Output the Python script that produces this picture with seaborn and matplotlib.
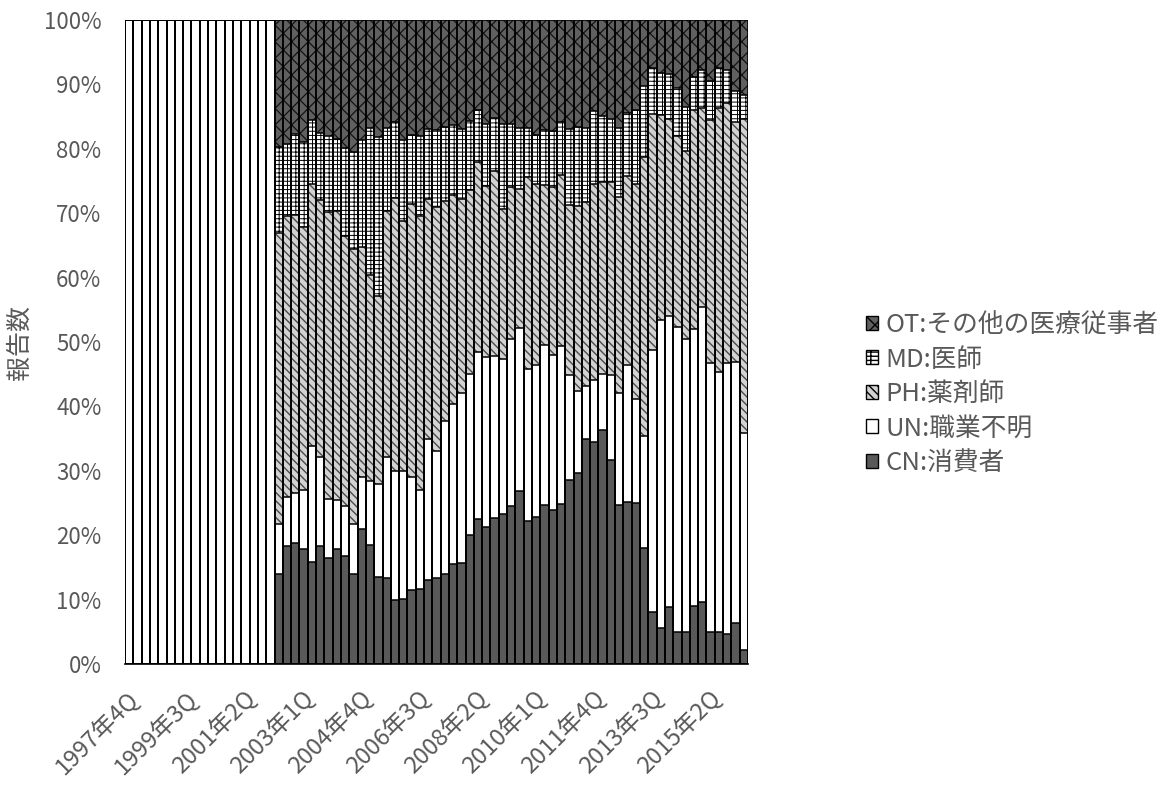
import matplotlib
matplotlib.use("Agg")
import matplotlib.pyplot as plt
from matplotlib.patches import Patch
from matplotlib.ticker import FuncFormatter
from matplotlib.transforms import ScaledTranslation
import seaborn as sns

# Quarterly categories, 1997Q4 .. 2016Q2
quarters = []
_y, _q = 1997, 4
for _ in range(75):
    quarters.append(f"{_y}年{_q}Q")
    _q += 1
    if _q > 4:
        _q, _y = 1, _y + 1

tick_labels = ["1997年4Q", "1999年3Q", "2001年2Q", "2003年1Q", "2004年4Q", "2006年3Q",
               "2008年2Q", "2010年1Q", "2011年4Q", "2013年3Q", "2015年2Q"]

# Share of reports by reporter type (%), per quarter
cn = [0, 0, 0, 0, 0, 0, 0, 0, 0, 0, 0, 0, 0, 0, 0, 0, 0, 0,
      14.0, 18.3, 18.8, 17.9, 15.9, 18.4, 16.4, 17.8, 16.8, 14.0,
      20.9, 18.5, 13.5, 13.3, 9.9, 10.1, 11.5, 11.6, 13.1, 13.4,
      14.0, 15.6, 15.7, 20.0, 22.5, 21.3, 22.6, 23.3, 24.6, 26.9,
      22.2, 22.8, 24.7, 23.9, 24.9, 28.5, 29.6, 34.9, 34.5, 36.3,
      31.7, 24.7, 25.1, 25.0, 18.0, 8.0, 5.6, 8.9, 4.9, 5.0,
      9.0, 9.7, 4.9, 4.9, 4.7, 6.3, 2.1]
un = [100, 100, 100, 100, 100, 100, 100, 100, 100, 100, 100, 100, 100, 100, 100, 100, 100, 100,
      7.8, 7.7, 7.7, 9.1, 18.0, 13.8, 9.2, 7.7, 7.8, 7.8,
      8.2, 9.9, 14.4, 18.8, 20.1, 19.9, 17.6, 15.4, 21.9, 19.6,
      23.7, 24.7, 26.4, 25.1, 25.9, 26.3, 25.3, 24.0, 25.8, 25.3,
      23.6, 23.6, 24.8, 24.1, 24.5, 16.3, 12.8, 8.3, 9.6, 8.8,
      13.1, 17.4, 21.4, 16.2, 17.4, 40.8, 47.8, 45.1, 47.5, 45.4,
      43.0, 45.7, 41.8, 40.5, 42.0, 40.6, 33.8]
ph = [0, 0, 0, 0, 0, 0, 0, 0, 0, 0, 0, 0, 0, 0, 0, 0, 0, 0,
      45.1, 43.6, 43.2, 40.8, 40.6, 39.8, 44.6, 44.9, 41.9, 42.7,
      35.7, 32.0, 29.2, 38.3, 42.4, 38.8, 42.3, 42.6, 37.2, 38.0,
      34.2, 32.5, 30.1, 28.5, 29.6, 26.6, 28.7, 23.3, 23.6, 21.5,
      29.8, 28.1, 24.9, 26.1, 26.5, 26.5, 28.7, 28.6, 30.5, 29.8,
      30.1, 30.4, 29.2, 33.4, 43.4, 36.6, 31.8, 30.7, 29.6, 29.2,
      34.1, 30.9, 37.7, 41.0, 40.4, 37.3, 48.8]
md = [0, 0, 0, 0, 0, 0, 0, 0, 0, 0, 0, 0, 0, 0, 0, 0, 0, 0,
      13.4, 11.1, 12.6, 13.3, 10.0, 10.5, 11.8, 11.1, 13.6, 15.0,
      16.6, 22.9, 24.7, 12.8, 11.7, 12.6, 10.7, 12.4, 10.9, 11.9,
      11.5, 10.9, 10.8, 10.7, 8.0, 9.7, 8.2, 13.3, 9.9, 9.6,
      7.7, 7.6, 8.5, 8.7, 8.3, 11.7, 12.3, 11.5, 11.2, 10.2,
      9.8, 10.8, 9.9, 11.4, 11.0, 7.1, 6.6, 6.9, 7.5, 6.9,
      5.0, 5.9, 6.1, 6.1, 5.1, 4.7, 3.7]
ot = [0, 0, 0, 0, 0, 0, 0, 0, 0, 0, 0, 0, 0, 0, 0, 0, 0, 0,
      19.7, 19.3, 17.7, 18.9, 15.5, 17.5, 18.0, 18.5, 19.9, 20.5,
      18.6, 16.7, 18.2, 16.8, 15.9, 18.6, 17.9, 18.0, 16.9, 17.1,
      16.6, 16.3, 17.0, 15.7, 14.0, 16.1, 15.2, 16.1, 16.1, 16.7,
      16.7, 17.9, 17.1, 17.2, 15.8, 17.0, 16.6, 16.7, 14.2, 14.9,
      15.3, 16.7, 14.4, 14.0, 10.2, 7.5, 8.2, 8.4, 10.5, 13.5,
      8.9, 7.8, 9.5, 7.5, 7.8, 11.1, 11.6]

series_names = ["CN:消費者", "UN:職業不明", "PH:薬剤師", "MD:医師", "OT:その他の医療従事者"]
series_vals = [cn, un, ph, md, ot]

# fill colour, hatch colour, hatch pattern, hatch line width for each series
styles = {
    "CN:消費者": ("#595959", "#595959", None, 1.0),
    "UN:職業不明": ("#ffffff", "#ffffff", None, 1.0),
    "PH:薬剤師": ("#d2d2d2", "#4a4a4a", "\\\\\\\\", 1.0),
    "MD:医師": ("#ffffff", "#000000", "----||", 0.7),
    "OT:その他の医療従事者": ("#606060", "#111111", "xx", 0.9),
}

sns.set_theme(style="white")
plt.rcParams["font.family"] = ["Noto Sans CJK JP", "DejaVu Sans"]
grey = "#595959"

fig = plt.figure(figsize=(11.69, 7.93), dpi=100)
ax = fig.add_axes([125 / 1169, 1 - 664 / 793, 623 / 1169, 644 / 793])

# cumulative tops of each stacked layer
tops = []
running = [0.0] * len(quarters)
for vals in series_vals:
    running = [r + v for r, v in zip(running, vals)]
    tops.append(running)

# draw from the top layer down so each lower layer covers the one above it
for name, top in reversed(list(zip(series_names, tops))):
    face, hcol, hatch, hlw = styles[name]
    with plt.rc_context({"hatch.linewidth": hlw}):
        sns.barplot(x=quarters, y=top, order=quarters, width=1.0, color=face,
                    saturation=1, edgecolor=hcol, linewidth=0, hatch=hatch,
                    errorbar=None, ax=ax)
for top in reversed(tops):
    sns.barplot(x=quarters, y=top, order=quarters, width=1.0, fill=False,
                color="black", linewidth=1.1, errorbar=None, ax=ax)

ax.set_xlim(-0.5, len(quarters) - 0.5)
ax.set_ylim(0, 100)
ax.set_yticks(range(0, 101, 10))
ax.yaxis.set_major_formatter(FuncFormatter(lambda v, p: f"{v:.0f}%"))
ax.tick_params(axis="y", length=0, pad=17, labelsize=16, labelcolor=grey)

label_pos = [quarters.index(t) for t in tick_labels]
ax.set_xticks(label_pos)
ax.set_xticklabels(tick_labels, rotation=45, ha="right", va="center",
                   rotation_mode="anchor", fontsize=17, color=grey)
ax.set_xticks([i - 0.5 for i in range(len(quarters) + 1)], minor=True)
ax.tick_params(axis="x", which="major", length=0, pad=22)
ax.tick_params(axis="x", which="minor", length=7, width=1, color="#7f7f7f")
shift = ScaledTranslation(6 / 100, 0, fig.dpi_scale_trans)
for lbl in ax.get_xticklabels():
    lbl.set_transform(lbl.get_transform() + shift)

ax.set_xlabel("")
ax.set_ylabel("報告数", fontsize=18, color=grey)
ax.yaxis.set_label_coords(-0.148, 0.5)

for side in ("top", "right", "left"):
    ax.spines[side].set_visible(False)
ax.spines["bottom"].set_color("black")
ax.spines["bottom"].set_linewidth(1.2)

handles = []
for name in reversed(series_names):
    face, hcol, hatch, hlw = styles[name]
    handles.append(Patch(facecolor=face, edgecolor="black", hatch=hatch, linewidth=1.0, label=name))
leg = fig.legend(handles=handles, loc="center left", bbox_to_anchor=(866 / 1169, 1 - 394 / 793),
                 frameon=False, fontsize=18.5, handlelength=0.45, handleheight=0.45,
                 handletextpad=0.3, labelspacing=0.33, borderpad=0, borderaxespad=0)
for t in leg.get_texts():
    t.set_color(grey)

fig.savefig("out.png", dpi=100)
